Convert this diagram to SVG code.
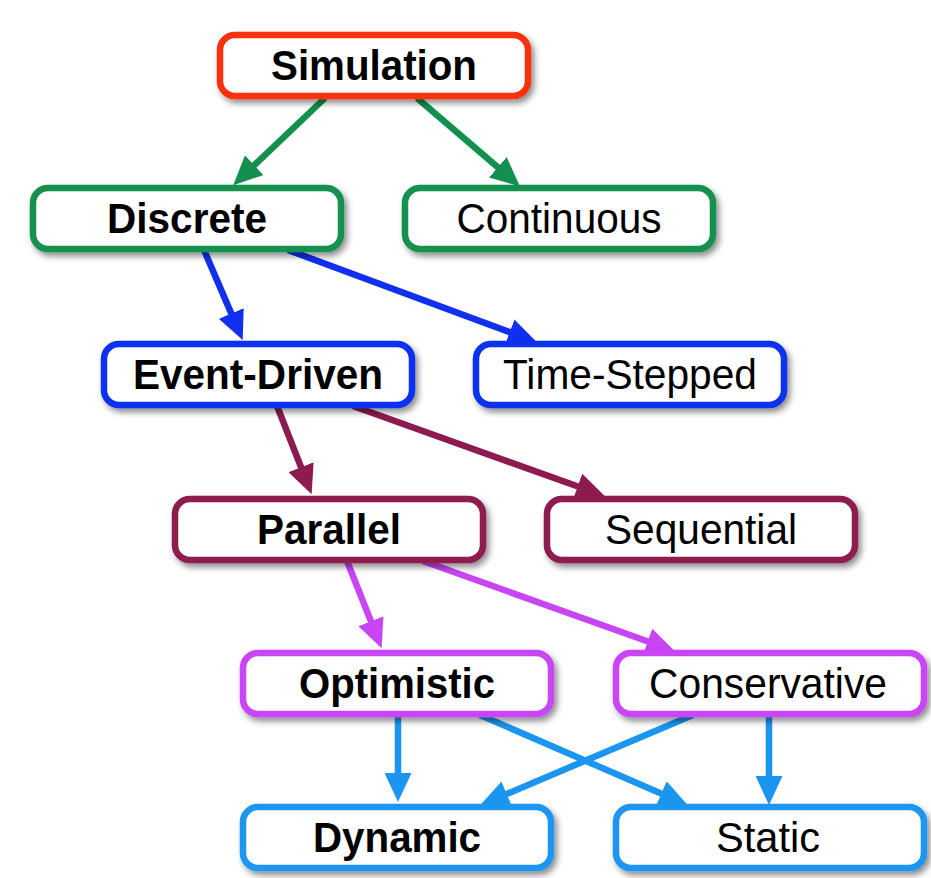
<svg xmlns="http://www.w3.org/2000/svg" width="931" height="878" viewBox="0 0 931 878">
<style>
  .box { fill: #ffffff; stroke-width: 6.5; filter: url(#shadow); }
  .lbl { font-family: "Liberation Sans", Arial, Helvetica, sans-serif; font-size: 42px; fill: #000; text-anchor: middle; }
  .b { font-weight: bold; }
  .edge { fill: none; stroke-width: 6.5; }
  .red { stroke: #f7300f; }
  .green { stroke: #13904f; }
  .blue { stroke: #1030ee; }
  .maroon { stroke: #8e1b50; }
  .magenta { stroke: #c944f5; }
  .sky { stroke: #1a96f0; }
</style>
<defs>
  <filter id="shadow" x="-10%" y="-20%" width="125%" height="160%">
    <feDropShadow dx="3" dy="4" stdDeviation="3" flood-color="#000" flood-opacity="0.45"/>
  </filter>
  <marker id="ah-green" markerUnits="userSpaceOnUse" markerWidth="29" markerHeight="27" refX="13" refY="13.5" orient="auto"><path d="M0,0 L29,13.5 L0,27 z" fill="#13904f"/></marker>
  <marker id="ah-blue" markerUnits="userSpaceOnUse" markerWidth="29" markerHeight="27" refX="13" refY="13.5" orient="auto"><path d="M0,0 L29,13.5 L0,27 z" fill="#1030ee"/></marker>
  <marker id="ah-maroon" markerUnits="userSpaceOnUse" markerWidth="29" markerHeight="27" refX="13" refY="13.5" orient="auto"><path d="M0,0 L29,13.5 L0,27 z" fill="#8e1b50"/></marker>
  <marker id="ah-magenta" markerUnits="userSpaceOnUse" markerWidth="29" markerHeight="27" refX="13" refY="13.5" orient="auto"><path d="M0,0 L29,13.5 L0,27 z" fill="#c944f5"/></marker>
  <marker id="ah-sky" markerUnits="userSpaceOnUse" markerWidth="29" markerHeight="27" refX="13" refY="13.5" orient="auto"><path d="M0,0 L29,13.5 L0,27 z" fill="#1a96f0"/></marker>
</defs>
<rect width="931" height="878" fill="#ffffff"/>
<g id="connectors">
  <line class="edge green" x1="325" y1="98" x2="244.8" y2="174.2" marker-end="url(#ah-green)"/>
  <line class="edge green" x1="417" y1="98" x2="507.7" y2="175.8" marker-end="url(#ah-green)"/>
  <line class="edge blue" x1="204" y1="250" x2="236.4" y2="325.4" marker-end="url(#ah-blue)"/>
  <line class="edge blue" x1="288" y1="250" x2="521.9" y2="336.6" marker-end="url(#ah-blue)"/>
  <line class="edge maroon" x1="277" y1="406" x2="305.8" y2="479.3" marker-end="url(#ah-maroon)"/>
  <line class="edge maroon" x1="353" y1="406" x2="589.9" y2="490.8" marker-end="url(#ah-maroon)"/>
  <line class="edge magenta" x1="347" y1="561" x2="375.7" y2="633.3" marker-end="url(#ah-magenta)"/>
  <line class="edge magenta" x1="423" y1="561" x2="659.9" y2="645.8" marker-end="url(#ah-magenta)"/>
  <line class="edge sky" x1="398" y1="715" x2="398" y2="786" marker-end="url(#ah-sky)"/>
  <line class="edge sky" x1="480" y1="715" x2="673.2" y2="798.8" marker-end="url(#ah-sky)"/>
  <line class="edge sky" x1="693" y1="715" x2="494.8" y2="799" marker-end="url(#ah-sky)"/>
  <line class="edge sky" x1="769" y1="715" x2="769" y2="789" marker-end="url(#ah-sky)"/>
</g>
<g id="node-simulation">
  <rect class="box red" x="220" y="35" width="308" height="61" rx="15"/>
  <text class="lbl b" x="374" y="80" textLength="206" lengthAdjust="spacingAndGlyphs">Simulation</text>
</g>
<g id="node-discrete">
  <rect class="box green" x="33" y="188" width="308" height="61" rx="15"/>
  <text class="lbl b" x="187" y="233" textLength="160" lengthAdjust="spacingAndGlyphs">Discrete</text>
</g>
<g id="node-continuous">
  <rect class="box green" x="405" y="188" width="308" height="61" rx="15"/>
  <text class="lbl" x="559" y="233" textLength="205" lengthAdjust="spacingAndGlyphs">Continuous</text>
</g>
<g id="node-event-driven">
  <rect class="box blue" x="104" y="344" width="308" height="61" rx="15"/>
  <text class="lbl b" x="258" y="389" textLength="250" lengthAdjust="spacingAndGlyphs">Event-Driven</text>
</g>
<g id="node-time-stepped">
  <rect class="box blue" x="476" y="344" width="308" height="61" rx="15"/>
  <text class="lbl" x="630" y="389" textLength="254" lengthAdjust="spacingAndGlyphs">Time-Stepped</text>
</g>
<g id="node-parallel">
  <rect class="box maroon" x="175" y="499" width="308" height="61" rx="15"/>
  <text class="lbl b" x="329" y="544" textLength="144" lengthAdjust="spacingAndGlyphs">Parallel</text>
</g>
<g id="node-sequential">
  <rect class="box maroon" x="547" y="499" width="308" height="61" rx="15"/>
  <text class="lbl" x="701" y="544" textLength="192" lengthAdjust="spacingAndGlyphs">Sequential</text>
</g>
<g id="node-optimistic">
  <rect class="box magenta" x="243" y="653" width="308" height="61" rx="15"/>
  <text class="lbl b" x="397" y="698" textLength="196" lengthAdjust="spacingAndGlyphs">Optimistic</text>
</g>
<g id="node-conservative">
  <rect class="box magenta" x="616" y="653" width="308" height="61" rx="15"/>
  <text class="lbl" x="768" y="698" textLength="238" lengthAdjust="spacingAndGlyphs">Conservative</text>
</g>
<g id="node-dynamic">
  <rect class="box sky" x="243" y="807" width="308" height="61" rx="15"/>
  <text class="lbl b" x="397" y="852" textLength="168" lengthAdjust="spacingAndGlyphs">Dynamic</text>
</g>
<g id="node-static">
  <rect class="box sky" x="616" y="807" width="308" height="61" rx="15"/>
  <text class="lbl" x="768" y="852" textLength="104" lengthAdjust="spacingAndGlyphs">Static</text>
</g>
</svg>
